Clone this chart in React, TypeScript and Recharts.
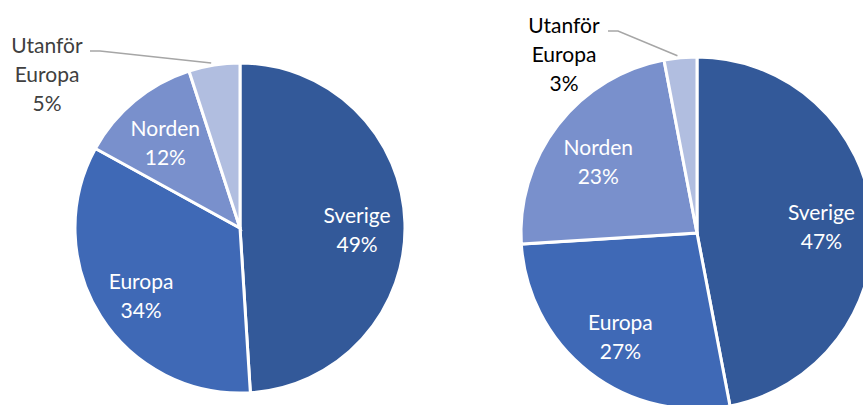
import { PieChart, Pie, Cell } from "recharts";

const regions = ["Sverige", "Europa", "Norden", "Utanför Europa"];
const leftShares = [49, 34, 12, 5];
const rightShares = [47, 27, 23, 3];
const sliceColors = ["#335999", "#3F69B6", "#7990CC", "#B1BEE0"];

const leftData = regions.map((name, i) => ({ name, value: leftShares[i] }));
const rightData = regions.map((name, i) => ({ name, value: rightShares[i] }));

const RAD = Math.PI / 180;
const FONT = "Lato, 'Open Sans', sans-serif";

// outside label for the tiny slice: text block position relative to the pie centre, plus elbow
function makeLabel(outside: { dx: number; dy: number; elbowDx: number; color: string }) {
  return (props: any) => {
    const { cx, cy, midAngle, outerRadius, name, value, index } = props;
    const pct = `${value}%`;
    if (index === regions.length - 1) {
      const ex = cx + outerRadius * Math.cos(-midAngle * RAD);
      const ey = cy + outerRadius * Math.sin(-midAngle * RAD);
      const tx = cx + outside.dx;
      const ty = cy + outside.dy;
      const lines = name.split(" ");
      return (
        <g>
          <polyline
            points={`${ex - 3},${ey - 2} ${tx + outside.elbowDx + 10},${ty - 24} ${tx + outside.elbowDx},${ty - 24}`}
            fill="none"
            stroke="#A6A6A6"
            strokeWidth={1.5}
          />
          <text x={tx} y={ty - 29} textAnchor="middle" fill={outside.color} fontSize={21} fontFamily={FONT}>
            <tspan x={tx} dy="0.35em">{lines[0]}</tspan>
            <tspan x={tx} dy={29}>{lines[1]}</tspan>
            <tspan x={tx} dy={29}>{pct}</tspan>
          </text>
        </g>
      );
    }
    const r = outerRadius * 0.71;
    const x = cx + r * Math.cos(-midAngle * RAD);
    const y = cy + r * Math.sin(-midAngle * RAD) + 6;
    return (
      <text x={x} y={y} textAnchor="middle" fill="#FFFFFF" fontSize={21} fontFamily={FONT}>
        <tspan x={x} dy={-7.5}>{name}</tspan>
        <tspan x={x} dy={29}>{pct}</tspan>
      </text>
    );
  };
}

export default function App() {
  return (
    <div style={{ width: 863, height: 405, background: "#FFFFFF", overflow: "hidden" }}>
      <style>{`body{margin:0}`}</style>
      <PieChart width={863} height={405} margin={{ top: 0, right: 0, bottom: 0, left: 0 }}>
        <Pie
          data={leftData}
          dataKey="value"
          nameKey="name"
          cx={240}
          cy={228}
          outerRadius={165}
          startAngle={90}
          endAngle={-270}
          stroke="#FFFFFF"
          strokeWidth={3}
          labelLine={false}
          label={makeLabel({ dx: -193, dy: -153, elbowDx: 43, color: "#404040" })}
          isAnimationActive={false}
        >
          {leftData.map((d, i) => (
            <Cell key={d.name} fill={sliceColors[i]} />
          ))}
        </Pie>
        <Pie
          data={rightData}
          dataKey="value"
          nameKey="name"
          cx={697}
          cy={233}
          outerRadius={176}
          startAngle={90}
          endAngle={-270}
          stroke="#FFFFFF"
          strokeWidth={3}
          labelLine={false}
          label={makeLabel({ dx: -133, dy: -178, elbowDx: 44, color: "#000000" })}
          isAnimationActive={false}
        >
          {rightData.map((d, i) => (
            <Cell key={d.name} fill={sliceColors[i]} />
          ))}
        </Pie>
      </PieChart>
    </div>
  );
}
